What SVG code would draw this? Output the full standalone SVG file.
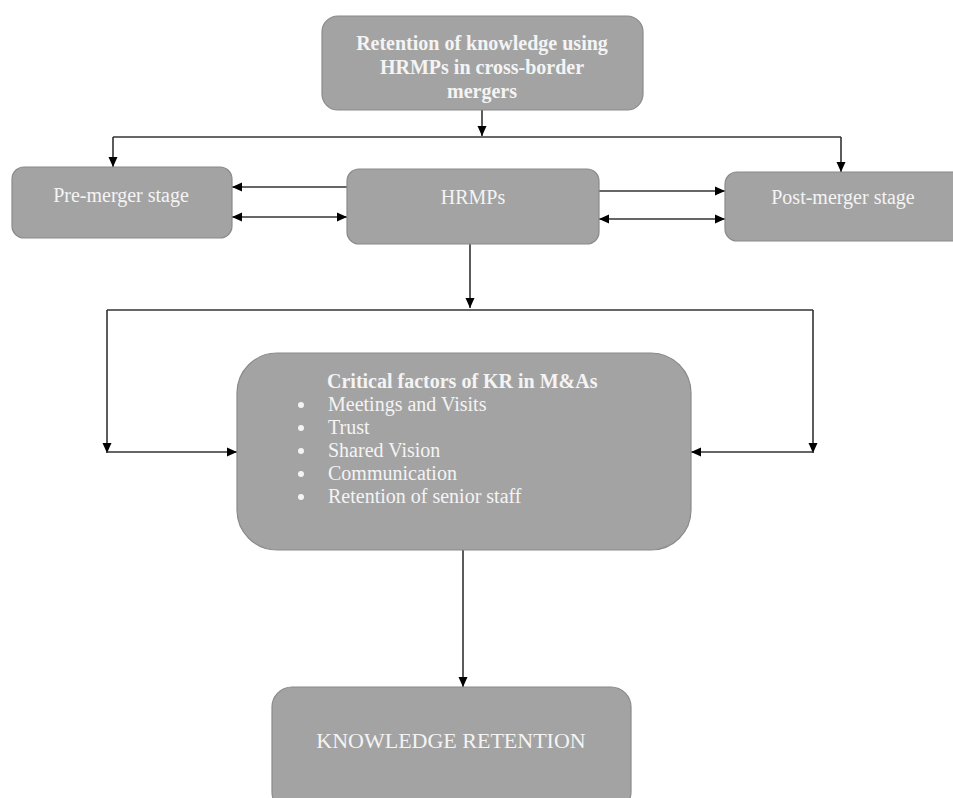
<svg xmlns="http://www.w3.org/2000/svg" width="953" height="798" viewBox="0 0 953 798">
<defs>
<marker id="ah" markerUnits="userSpaceOnUse" markerWidth="11" markerHeight="10" refX="10" refY="5" orient="auto-start-reverse">
<path d="M0,0.5 L10,5 L0,9.5 z" fill="#000"/>
</marker>
<style>
.box{fill:#a3a3a3;stroke:#8a8a8a;stroke-width:1.2}
.t{font-family:"Liberation Serif","Times New Roman",serif;fill:#f4f4f4;font-size:20px}
.b{font-weight:bold}
.c{stroke:#333;stroke-width:1.6;fill:none}
</style>
</defs>
<rect width="953" height="798" fill="#fff"/>
<g id="connectors">
<line class="c" x1="482" y1="110" x2="482" y2="136" marker-end="url(#ah)"/>
<line class="c" x1="113" y1="137" x2="841" y2="137"/>
<line class="c" x1="113" y1="137" x2="113" y2="167" marker-end="url(#ah)"/>
<line class="c" x1="841" y1="137" x2="841" y2="172" marker-end="url(#ah)"/>
<line class="c" x1="347" y1="187" x2="232" y2="187" marker-end="url(#ah)"/>
<line class="c" x1="232" y1="217" x2="347" y2="217" marker-start="url(#ah)" marker-end="url(#ah)"/>
<line class="c" x1="599" y1="191" x2="725" y2="191" marker-end="url(#ah)"/>
<line class="c" x1="599" y1="219" x2="725" y2="219" marker-start="url(#ah)" marker-end="url(#ah)"/>
<line class="c" x1="470" y1="244" x2="470" y2="308" marker-end="url(#ah)"/>
<line class="c" x1="107" y1="310" x2="813" y2="310"/>
<line class="c" x1="107" y1="310" x2="107" y2="453" marker-end="url(#ah)"/>
<line class="c" x1="107" y1="452" x2="237" y2="452" marker-end="url(#ah)"/>
<line class="c" x1="813" y1="310" x2="813" y2="453" marker-end="url(#ah)"/>
<line class="c" x1="813" y1="452" x2="691" y2="452" marker-end="url(#ah)"/>
<line class="c" x1="463" y1="550" x2="463" y2="687" marker-end="url(#ah)"/>
</g>
<g id="top">
<rect class="box" x="322" y="16" width="321" height="94" rx="16"/>
<text class="t b" text-anchor="middle" x="482" y="50">Retention of knowledge using</text>
<text class="t b" text-anchor="middle" x="482" y="74">HRMPs in cross-border</text>
<text class="t b" text-anchor="middle" x="482" y="98">mergers</text>
</g>
<g id="pre">
<rect class="box" x="12" y="167" width="220" height="71" rx="12"/>
<text class="t" text-anchor="middle" x="121" y="202">Pre-merger stage</text>
</g>
<g id="hrmps">
<rect class="box" x="347" y="169" width="252" height="75" rx="12"/>
<text class="t" text-anchor="middle" x="473" y="204">HRMPs</text>
</g>
<g id="post">
<rect class="box" x="725" y="172" width="240" height="69" rx="12"/>
<text class="t" text-anchor="middle" x="843" y="204">Post-merger stage</text>
</g>
<g id="critical">
<rect class="box" x="237" y="353" width="454" height="197" rx="40"/>
<text class="t b" x="327" y="388">Critical factors of KR in M&amp;As</text>
<g class="t">
<circle cx="301" cy="405" r="3" fill="#f4f4f4"/>
<circle cx="301" cy="428" r="3" fill="#f4f4f4"/>
<circle cx="301" cy="451" r="3" fill="#f4f4f4"/>
<circle cx="301" cy="474" r="3" fill="#f4f4f4"/>
<circle cx="301" cy="497" r="3" fill="#f4f4f4"/>
<text x="328" y="411">Meetings and Visits</text>
<text x="328" y="434">Trust</text>
<text x="328" y="457">Shared Vision</text>
<text x="328" y="480">Communication</text>
<text x="328" y="503">Retention of senior staff</text>
</g>
</g>
<g id="kr">
<rect class="box" x="272" y="687" width="359" height="125" rx="20"/>
<text class="t" text-anchor="middle" x="451" y="748" style="font-size:22px">KNOWLEDGE RETENTION</text>
</g>
</svg>
